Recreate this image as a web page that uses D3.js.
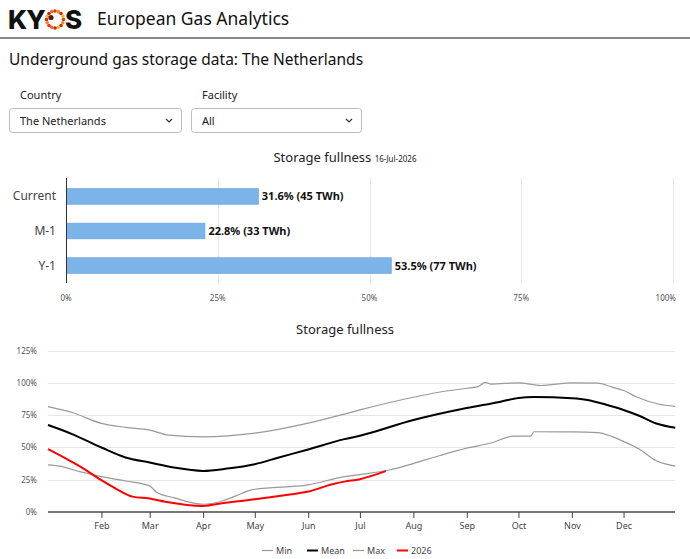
<!DOCTYPE html>
<html>
<head>
<meta charset="utf-8">
<script src="https://cdn.jsdelivr.net/npm/d3@7"></script>
<style>
  body { margin: 0; background: #fff; }
  svg { display: block; font-family: "Noto Sans", "Open Sans", sans-serif; }
</style>
</head>
<body>
<svg id="page" width="690" height="559"></svg>
<script>
// ---- data ----
var barCategories = ["Current", "M-1", "Y-1"];
var barValues = [31.6, 22.8, 53.5];
var barTwh = [45, 33, 77];
var barTicks = [0, 25, 50, 75, 100];
var reportDate = "16-Jul-2026";

var minSeries = [
  ["01-01", 36.5], ["01-08", 35.5], ["01-20", 31], ["02-01", 27.4], ["02-15", 24], ["03-01", 20.2],
  ["03-05", 15.3], ["03-15", 11.1], ["04-01", 6], ["04-12", 8.5], ["04-20", 12.5], ["04-28", 16.8],
  ["05-01", 17.6], ["06-01", 21], ["06-22", 27.4], ["07-01", 29], ["07-18", 32.5], ["08-01", 37.5],
  ["08-16", 43.5], ["09-01", 49.4], ["09-15", 53.4], ["09-28", 58.7], ["10-08", 58.7], ["10-10", 62.1],
  ["11-01", 62], ["11-16", 61.5], ["11-24", 58.5], ["12-01", 54.6], ["12-10", 48.8], ["12-20", 39.6],
  ["12-31", 35.5]
];
var meanSeries = [
  ["01-01", 67.3], ["01-15", 60.3], ["02-01", 49.9], ["02-15", 42.2], ["03-01", 38.3], ["03-15", 34.4],
  ["04-01", 31.8], ["04-15", 33.6], ["05-01", 37], ["05-15", 42.2], ["06-01", 48.4], ["06-22", 56.4],
  ["07-01", 59], ["08-01", 71.2], ["09-01", 80.5], ["09-20", 85.2], ["10-01", 88.3], ["10-10", 89],
  ["11-01", 88], ["11-10", 86.7], ["11-21", 83], ["12-01", 79], ["12-10", 74.5], ["12-20", 68.5],
  ["12-31", 65.2]
];
var maxSeries = [
  ["01-01", 81.5], ["01-15", 77], ["02-01", 68.6], ["02-15", 65.5], ["03-01", 63.4], ["03-12", 59.5],
  ["04-01", 58.2], ["05-01", 61], ["06-01", 68.8], ["06-22", 75.8], ["07-01", 79], ["08-01", 88.8],
  ["08-15", 92.5], ["09-01", 95.8], ["09-07", 96.8], ["09-12", 100.3], ["09-15", 99], ["10-01", 100],
  ["10-14", 97.9], ["11-01", 100], ["11-16", 99.7], ["11-24", 96.8], ["12-01", 94], ["12-09", 88.8],
  ["12-21", 83.6], ["12-31", 81.8]
];
var series2026 = [
  ["01-01", 48.7], ["01-11", 41.7], ["01-20", 35], ["02-01", 24.6], ["02-10", 17.6], ["02-19", 11.9],
  ["03-01", 10.4], ["03-10", 8], ["04-01", 4.7], ["04-14", 7.2], ["05-01", 9.8], ["05-15", 12.4],
  ["06-01", 15.8], ["06-15", 21.5], ["06-22", 23.5], ["07-01", 25.4], ["07-16", 31.6]
];
var lineTicks = [0, 25, 50, 75, 100, 125];

var svg = d3.select("#page");
var parse = d3.timeParse("%Y-%m-%d");
function toPoints(arr) {
  return arr.map(function (d) { return { date: parse("2026-" + d[0]), value: d[1] }; });
}

// ---- header ----
svg.append("text").attr("x", 8).attr("y", 29)
  .style("font-family", "Inter, sans-serif").style("font-weight", 800).style("font-size", "26px")
  .style("letter-spacing", "-1px").attr("fill", "#111").text("KY");
// ring of dots for the O
var ringCx = 55, ringCy = 19.5, ringR = 8.5;
var dotColors = ["#e8331f", "#f28a1c", "#d8261c", "#f6b31b", "#c1271d", "#ef6a1c"];
d3.range(16).forEach(function (i) {
  var a = i / 16 * Math.PI * 2;
  svg.append("circle")
    .attr("cx", ringCx + ringR * Math.cos(a)).attr("cy", ringCy + ringR * Math.sin(a))
    .attr("r", 1.8).attr("fill", dotColors[i % dotColors.length]);
});
svg.append("circle").attr("cx", ringCx - 4).attr("cy", ringCy - 2).attr("r", 2.6).attr("fill", "#5a1a12");
svg.append("text").attr("x", 65).attr("y", 29)
  .style("font-family", "Inter, sans-serif").style("font-weight", 800).style("font-size", "26px")
  .attr("fill", "#111").text("S");
svg.append("text").attr("x", 97).attr("y", 25)
  .style("font-size", "17.5px").attr("fill", "#111").text("European Gas Analytics");
svg.append("rect").attr("x", 0).attr("y", 37).attr("width", 690).attr("height", 2).attr("fill", "#8a8a8a");

svg.append("text").attr("x", 9).attr("y", 65)
  .style("font-size", "15.5px").attr("fill", "#111")
  .text("Underground gas storage data: The Netherlands");

// selects
var selects = [
  { label: "Country", value: "The Netherlands", x: 9, w: 172 },
  { label: "Facility", value: "All", x: 191, w: 170 }
];
selects.forEach(function (s) {
  svg.append("text").attr("x", s.x + 11).attr("y", 99).style("font-size", "11px").attr("fill", "#222").text(s.label);
  svg.append("rect").attr("x", s.x + 0.5).attr("y", 108.5).attr("width", s.w).attr("height", 24)
    .attr("rx", 3).attr("fill", "#fff").attr("stroke", "#b9bcc2");
  svg.append("text").attr("x", s.x + 11).attr("y", 124.5).style("font-size", "11px").attr("fill", "#222").text(s.value);
  var cx = s.x + s.w - 12;
  svg.append("path").attr("d", "M" + (cx - 3) + ",119 L" + cx + ",122 L" + (cx + 3) + ",119")
    .attr("fill", "none").attr("stroke", "#333").attr("stroke-width", 1.2);
});

// ---- bar chart ----
var bt = svg.append("text").attr("x", 345).attr("y", 162).attr("text-anchor", "middle").attr("fill", "#222");
bt.append("tspan").style("font-size", "13px").text("Storage fullness ");
bt.append("tspan").style("font-size", "8px").text(reportDate);

var bx = d3.scaleLinear().domain([0, 100]).range([66, 673]);
var by = d3.scaleBand().domain(barCategories).range([179, 283]).paddingInner(0.55).paddingOuter(0.28);

var bg = svg.append("g");
bg.selectAll(".vgrid").data(barTicks.slice(1)).enter().append("line")
  .attr("x1", function (d) { return Math.round(bx(d)) + 0.5; }).attr("x2", function (d) { return Math.round(bx(d)) + 0.5; })
  .attr("y1", 178).attr("y2", 283).attr("stroke", "#e6e6e6");
bg.selectAll(".bar").data(barValues).enter().append("rect")
  .attr("x", bx(0) + 0.5)
  .attr("y", function (d, i) { return by(barCategories[i]); })
  .attr("width", function (d) { return bx(d) - bx(0); })
  .attr("height", by.bandwidth())
  .attr("fill", "#7cb4ea").attr("stroke", "#6aa6e2").attr("stroke-width", 0.8);
bg.selectAll(".blab").data(barValues).enter().append("text")
  .attr("x", function (d) { return bx(d) + 4; })
  .attr("y", function (d, i) { return by(barCategories[i]) + by.bandwidth() / 2 + 4; })
  .style("font-size", "11px").style("font-weight", "bold").attr("fill", "#111")
  .text(function (d, i) { return d.toFixed(1) + "% (" + barTwh[i] + " TWh)"; });
bg.append("line").attr("x1", 66.5).attr("x2", 66.5).attr("y1", 178).attr("y2", 283).attr("stroke", "#333");
bg.selectAll(".cat").data(barCategories).enter().append("text")
  .attr("x", 56).attr("y", function (d) { return by(d) + by.bandwidth() / 2 + 4; })
  .attr("text-anchor", "end").style("font-size", "12px").attr("fill", "#444").text(function (d) { return d; });
bg.selectAll(".btick").data(barTicks).enter().append("text")
  .attr("x", function (d) { return d === 100 ? 676 : bx(d); }).attr("y", 301)
  .attr("text-anchor", function (d) { return d === 100 ? "end" : "middle"; })
  .style("font-size", "8px").attr("fill", "#555").text(function (d) { return d + "%"; });

// ---- line chart ----
svg.append("text").attr("x", 345).attr("y", 334).attr("text-anchor", "middle")
  .style("font-size", "13px").attr("fill", "#222").text("Storage fullness");

var lx = d3.scaleTime().domain([parse("2026-01-01"), parse("2027-01-01")]).range([48, 677]);
var ly = d3.scaleLinear().domain([0, 125]).range([512, 350.5]);

var lg = svg.append("g");
lg.selectAll(".hgrid").data(lineTicks.slice(1)).enter().append("line")
  .attr("x1", 48).attr("x2", 675)
  .attr("y1", function (d) { return Math.round(ly(d)) + 0.5; }).attr("y2", function (d) { return Math.round(ly(d)) + 0.5; })
  .attr("stroke", "#e6e6e6");
lg.selectAll(".ylab").data(lineTicks).enter().append("text")
  .attr("x", 37).attr("y", function (d) { return ly(d) + 3; }).attr("text-anchor", "end")
  .style("font-size", "8px").attr("fill", "#555").text(function (d) { return d + "%"; });

var xAxis = lg.append("g").attr("transform", "translate(0,512)")
  .call(d3.axisBottom(lx).ticks(d3.timeMonth.every(1)).tickFormat(d3.timeFormat("%b")).tickSize(6).tickSizeOuter(0));
xAxis.select(".domain").attr("stroke", "#777").attr("stroke-width", 2).attr("d", "M48,0H675");
xAxis.selectAll(".tick").filter(function (d) { return d.getMonth() === 0; }).remove();
xAxis.selectAll(".tick line").attr("stroke", "#444");
xAxis.selectAll(".tick text").attr("y", 11).style("font-size", "9px").style("font-family", "Noto Sans, sans-serif").attr("fill", "#444");

var line = d3.line().x(function (d) { return lx(d.date); }).y(function (d) { return ly(d.value); })
  .curve(d3.curveMonotoneX);

var seriesList = [
  { name: "Min", data: minSeries, color: "#999", width: 1.2 },
  { name: "Mean", data: meanSeries, color: "#000", width: 2 },
  { name: "Max", data: maxSeries, color: "#999", width: 1.2 },
  { name: "2026", data: series2026, color: "#ff0000", width: 2 }
];
seriesList.forEach(function (s) {
  lg.append("path").datum(toPoints(s.data)).attr("d", line)
    .attr("fill", "none").attr("stroke", s.color).attr("stroke-width", s.width);
});

// legend
var legendX = [262, 307, 353, 397];
var legend = svg.append("g");
seriesList.forEach(function (s, i) {
  legend.append("line").attr("x1", legendX[i]).attr("x2", legendX[i] + 11).attr("y1", 550.5).attr("y2", 550.5)
    .attr("stroke", s.color).attr("stroke-width", s.width);
  legend.append("text").attr("x", legendX[i] + 14).attr("y", 554).style("font-size", "9px")
    .attr("fill", "#444").text(s.name);
});
</script>
</body>
</html>
